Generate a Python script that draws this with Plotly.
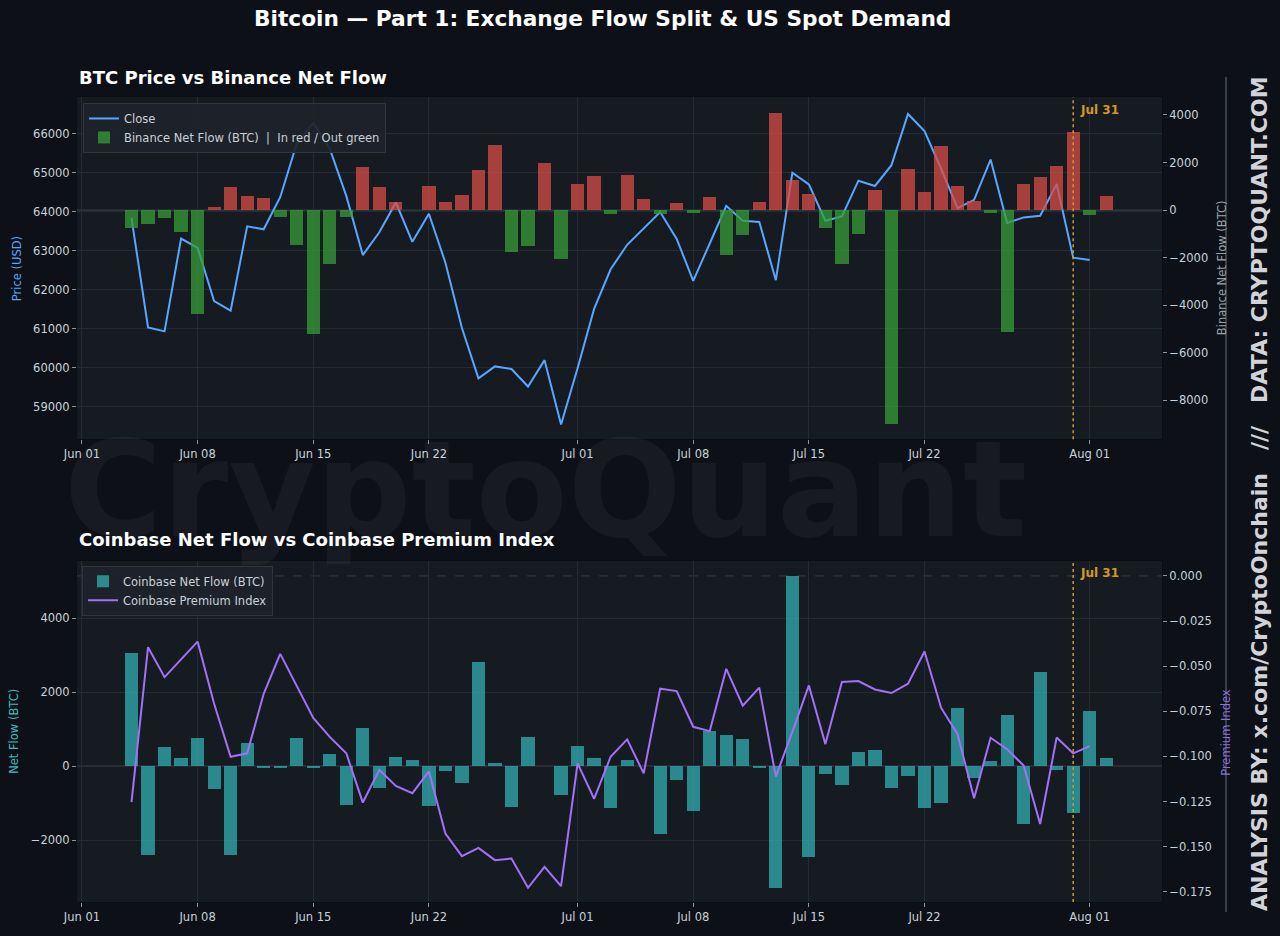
import pandas as pd
import plotly.graph_objects as go

# ---------------- DATA ----------------
series_start = "2024-06-04"

binance_netflow = [
    -767, -586, -349, -907, -4379, 126, 962, 572, 516, -279, -1464, -5216, -2273, -279,
    1813, 962, 349, 0, 1004, 349, 628, 1702, 2720, -1743, -1520, 1967, -2050,
    1116, 1423, -181, 1464, 460, -153, 293, -112, 530, -1869, -1032, 335, 4100, 1255,
    697, -739, -2273, -1004, 837, -8982, 1715, 753, 2692, 1004, 377, -112, -5105,
    1102, 1409, 1841, 3278, -195, 572,
]

price_close = [
    63837, 61030, 60928, 63311, 63074, 61708, 61462, 63625, 63549, 64372, 65746, 66280,
    65618, 64405, 62887, 63472, 64236, 63226, 63947, 62692, 61013, 59724, 60029, 59961,
    59512, 60190, 58536,
    59980, 61505, 62522, 63150, 63583, 63990, 63303, 62226, 63184, 64151, 63769, 63735,
    62243, 64999, 64702, 63769, 63880, 64796, 64660, 65194, 66509, 66068, 65109, 64092,
    64304, 65339, 63710, 63854, 63897, 64711, 62819, 62760,
]

coinbase_netflow = [
    3076, -2395, 511, 215, 780, -619, -2395, 628, -54, -54, 780, -36, 332, -1058, 1049,
    -574, 251, 170, -1085, -117, -457, 2834, 90, -1103, 789, 0, -762,
    556, 224, -1139, 170, 0, -1830, -359, -1211, 969, 861, 735, -45, -3291, 5139, -2457,
    -197, -511, 386, 448, -574, -251, -1139, -1004, 1578, -305, 143, 1381, -1561, 2556,
    -90, -1256, 1489, 215,
]

premium_index = [
    -0.1254, -0.0395, -0.0561, -0.0463, -0.0364, -0.0708, -0.1002, -0.0983, -0.0653,
    -0.0432, -0.0607, -0.0787, -0.0892, -0.0983, -0.1256, -0.1075, -0.1164, -0.1204,
    -0.1083, -0.1428, -0.1553, -0.1507, -0.1575, -0.1566, -0.1728, -0.1612, -0.1719,
    -0.1039, -0.1235, -0.1002, -0.0906, -0.1094, -0.0625, -0.0638, -0.0836, -0.0860,
    -0.0515, -0.0719, -0.0619, -0.1112, -0.0864, -0.0607, -0.0932, -0.0588, -0.0583,
    -0.0629, -0.0649, -0.0597, -0.0419, -0.0730, -0.0877, -0.1232, -0.0897, -0.0960,
    -0.1051, -0.1375, -0.0895, -0.0983,
    -0.0943,
]

x_tick_dates = ["2024-06-01", "2024-06-08", "2024-06-15", "2024-06-22", "2024-07-01",
                "2024-07-08", "2024-07-15", "2024-07-22", "2024-08-01"]
x_tick_labels = ["Jun 01", "Jun 08", "Jun 15", "Jun 22", "Jul 01",
                 "Jul 08", "Jul 15", "Jul 22", "Aug 01"]
price_ticks = [59000, 60000, 61000, 62000, 63000, 64000, 65000, 66000]
binance_ticks = [-8000, -6000, -4000, -2000, 0, 2000, 4000]
coinbase_ticks = [-2000, 0, 2000, 4000]
premium_ticks = [-0.175, -0.150, -0.125, -0.100, -0.075, -0.050, -0.025, 0.0]

marker_date = "2024-07-31"
marker_label = "Jul 31"

title_text = "Bitcoin — Part 1: Exchange Flow Split & US Spot Demand"
top_title = "BTC Price vs Binance Net Flow"
bottom_title = "Coinbase Net Flow vs Coinbase Premium Index"
side_text = "ANALYSIS BY: x.com/CryptoOnchain   ///   DATA: CRYPTOQUANT.COM"
watermark_text = "CryptoQuant"

# ---------------- STYLE ----------------
W, H = 1280, 936
ML, MR, MT, MB = 77, 118, 97, 30
PW, PH = W - ML - MR, H - MT - MB


def px_x(px):
    return (px - ML) / PW


def px_y(py):
    return (H - MB - py) / PH


FIG_BG = "#0d1117"
PLOT_BG = "#161b22"
GRID = "#252b34"
TICK_COL = "#c9d1d9"
BLUE = "#58a6ff"
PURPLE = "#a371f7"
RED_BAR = "rgba(216,76,71,0.75)"
GREEN_BAR = "rgba(54,158,55,0.75)"
TEAL_BAR = "rgba(50,175,178,0.75)"
ORANGE = "#d29922"
FONT = "DejaVu Sans"

bar_dates = pd.date_range(series_start, periods=len(binance_netflow), freq="D")
line_dates = pd.date_range(series_start, periods=len(price_close), freq="D")
cb_dates = pd.date_range(series_start, periods=len(coinbase_netflow), freq="D")
prem_dates = pd.date_range(series_start, periods=len(premium_index), freq="D")

bar_width_ms = 0.8 * 86400000
binance_colors = [RED_BAR if v >= 0 else GREEN_BAR for v in binance_netflow]

fig = go.Figure()

fig.add_trace(go.Scatter(
    x=line_dates, y=price_close, mode="lines", name="Close",
    line=dict(color=BLUE, width=2), xaxis="x", yaxis="y", legend="legend",
))
fig.add_trace(go.Bar(
    x=bar_dates, y=binance_netflow, name="Binance Net Flow (BTC)  |  In red / Out green",
    marker=dict(color=binance_colors, line=dict(width=0)), width=bar_width_ms,
    xaxis="x", yaxis="y2", legend="legend",
))
fig.add_trace(go.Bar(
    x=cb_dates, y=coinbase_netflow, name="Coinbase Net Flow (BTC)",
    marker=dict(color=TEAL_BAR, line=dict(width=0)), width=bar_width_ms,
    xaxis="x2", yaxis="y3", legend="legend2",
))
fig.add_trace(go.Scatter(
    x=prem_dates, y=premium_index, mode="lines", name="Coinbase Premium Index",
    line=dict(color=PURPLE, width=2), xaxis="x2", yaxis="y4", legend="legend2",
))

x_range = ["2024-05-31 16:48", "2024-08-05 09:00"]
top_dom = [px_y(441), 1.0]
bot_dom = [0.0, px_y(563)]

axis_common = dict(
    ticks="outside", ticklen=4, tickwidth=1, tickcolor="#8b949e",
    tickfont=dict(size=11.5, color=TICK_COL, family=FONT),
    zeroline=False, showline=True, linecolor="#0a0d12", linewidth=1,
)

fig.update_layout(
    width=W, height=H, autosize=False,
    margin=dict(l=ML, r=MR, t=MT, b=MB),
    paper_bgcolor=FIG_BG, plot_bgcolor=PLOT_BG,
    font=dict(family=FONT, color=TICK_COL),
    bargap=0, barmode="overlay",
    showlegend=True,
    xaxis=dict(domain=[0, 1], anchor="y", range=x_range, tickvals=x_tick_dates,
               ticktext=x_tick_labels, showgrid=True, gridcolor=GRID, mirror=True,
               **axis_common),
    yaxis=dict(domain=top_dom, anchor="x", range=[58158, 66944], tickvals=price_ticks,
               tickformat="d", showgrid=True, gridcolor=GRID, mirror=True, **axis_common),
    yaxis2=dict(overlaying="y", side="right", anchor="x", range=[-9632, 4753],
                tickvals=binance_ticks, tickformat="d", showgrid=False, **axis_common),
    xaxis2=dict(domain=[0, 1], anchor="y3", range=x_range, tickvals=x_tick_dates,
                ticktext=x_tick_labels, showgrid=True, gridcolor=GRID, mirror=True,
                **axis_common),
    yaxis3=dict(domain=bot_dom, anchor="x2", range=[-3676, 5552], tickvals=coinbase_ticks,
                tickformat="d", showgrid=True, gridcolor=GRID, mirror=True, **axis_common),
    yaxis4=dict(overlaying="y3", side="right", anchor="x2", range=[-0.1807, 0.00844],
                tickvals=premium_ticks, tickformat=".3f", showgrid=False, **axis_common),
    legend=dict(x=px_x(83), y=px_y(103), xanchor="left", yanchor="top",
                bgcolor="rgba(30,35,43,0.92)", bordercolor="#30363d", borderwidth=1,
                font=dict(size=11.5, color=TICK_COL, family=FONT), tracegroupgap=0),
    legend2=dict(x=px_x(82), y=px_y(568), xanchor="left", yanchor="top",
                 bgcolor="rgba(30,35,43,0.92)", bordercolor="#30363d", borderwidth=1,
                 font=dict(size=11.5, color=TICK_COL, family=FONT), tracegroupgap=0),
)

shapes = [
    dict(type="line", xref="x domain", x0=0, x1=1, yref="y2", y0=0, y1=0,
         line=dict(color="#3d444d", width=1), layer="below"),
    dict(type="line", xref="x2 domain", x0=0, x1=1, yref="y3", y0=0, y1=0,
         line=dict(color="#3d444d", width=1), layer="below"),
    dict(type="line", xref="x2 domain", x0=0, x1=1, yref="y4", y0=0, y1=0,
         line=dict(color="#363c45", width=1, dash="dash"), layer="below"),
    dict(type="line", xref="x", x0=marker_date, x1=marker_date, yref="y domain", y0=0, y1=1,
         line=dict(color=ORANGE, width=1.5, dash="dot")),
    dict(type="line", xref="x2", x0=marker_date, x1=marker_date, yref="y3 domain", y0=0, y1=1,
         line=dict(color=ORANGE, width=1.5, dash="dot")),
    dict(type="line", xref="paper", x0=px_x(1226), x1=px_x(1226), yref="paper",
         y0=px_y(916), y1=px_y(77), line=dict(color="#4a5059", width=1.5)),
]
fig.update_layout(shapes=shapes)

ann = [
    # watermark
    dict(text=watermark_text, xref="paper", yref="paper", x=px_x(545), y=px_y(492),
         xanchor="center", yanchor="middle", showarrow=False,
         font=dict(size=134, color="rgba(255,255,255,0.045)", family=FONT, weight="bold")),
    # main title
    dict(text=title_text, xref="paper", yref="paper", x=px_x(602), y=px_y(18),
         xanchor="center", yanchor="middle", showarrow=False,
         font=dict(size=21.7, color="#ffffff", family=FONT, weight="bold")),
    # subplot titles
    dict(text=top_title, xref="paper", yref="paper", x=0, y=px_y(77),
         xanchor="left", yanchor="middle", showarrow=False,
         font=dict(size=18, color="#ffffff", family=FONT, weight="bold")),
    dict(text=bottom_title, xref="paper", yref="paper", x=0, y=px_y(542),
         xanchor="left", yanchor="middle", showarrow=False,
         font=dict(size=18, color="#ffffff", family=FONT, weight="bold")),
    # axis titles
    dict(text="Price (USD)", xref="paper", yref="paper", x=px_x(17), y=px_y(269),
         xanchor="center", yanchor="middle", textangle=-90, showarrow=False,
         font=dict(size=11.5, color=BLUE, family=FONT)),
    dict(text="Binance Net Flow (BTC)", xref="paper", yref="paper", x=px_x(1222), y=px_y(269),
         xanchor="center", yanchor="middle", textangle=-90, showarrow=False,
         font=dict(size=11.5, color="#9aa2ab", family=FONT)),
    dict(text="Net Flow (BTC)", xref="paper", yref="paper", x=px_x(14), y=px_y(735),
         xanchor="center", yanchor="middle", textangle=-90, showarrow=False,
         font=dict(size=11.5, color="#3fb9bf", family=FONT)),
    dict(text="Premium Index", xref="paper", yref="paper", x=px_x(1226), y=px_y(736),
         xanchor="center", yanchor="middle", textangle=-90, showarrow=False,
         font=dict(size=11.5, color="#8b70d8", family=FONT)),
    # marker labels
    dict(text=marker_label, xref="x", yref="y domain", x=marker_date, y=1 - 13 / 344,
         xanchor="left", yanchor="middle", xshift=5, showarrow=False,
         font=dict(size=12, color=ORANGE, family=FONT, weight="bold")),
    dict(text=marker_label, xref="x2", yref="y3 domain", x=marker_date, y=1 - 12 / 343,
         xanchor="left", yanchor="middle", xshift=5, showarrow=False,
         font=dict(size=12, color=ORANGE, family=FONT, weight="bold")),
    # side credit
    dict(text=side_text, xref="paper", yref="paper", x=px_x(1259), y=px_y(496),
         xanchor="center", yanchor="middle", textangle=-90, showarrow=False,
         font=dict(size=22, color="#d0d4da", family=FONT, weight="bold")),
]
fig.update_layout(annotations=ann)

fig.write_html(
    "out.html",
    config={"displayModeBar": False},
    post_script="document.body.style.margin='0';document.body.style.background='#0d1117';",
)
